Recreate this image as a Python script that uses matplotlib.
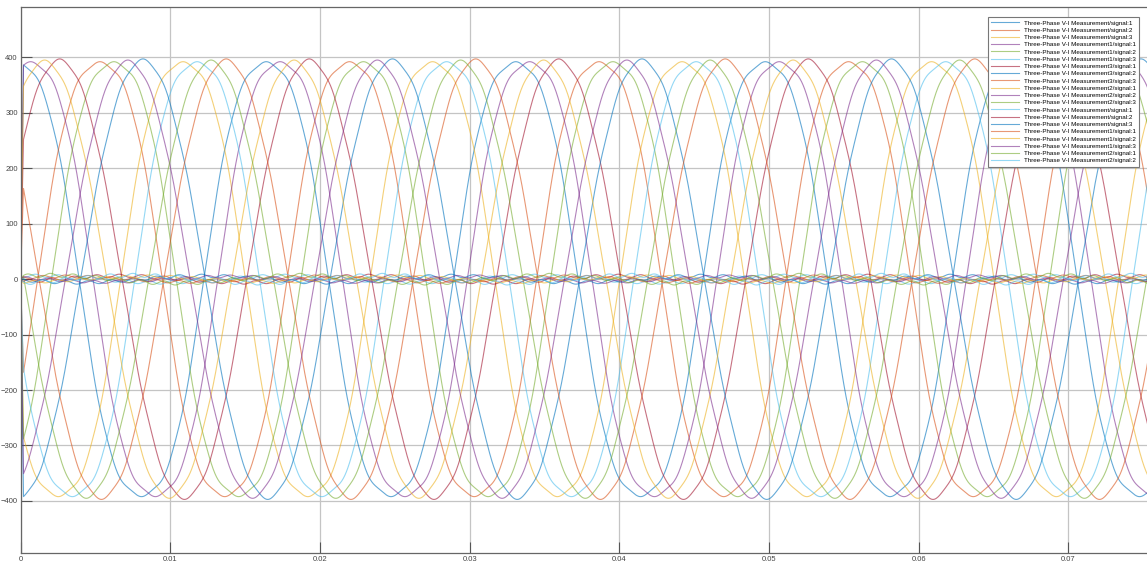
import numpy as np
import matplotlib
matplotlib.use('Agg')
import matplotlib.pyplot as plt

plt.rcParams['font.family'] = ['Liberation Sans', 'DejaVu Sans']

# legend labels, in scope order
labels = [
    'Three-Phase V-I Measurement/signal:1', 'Three-Phase V-I Measurement/signal:2',
    'Three-Phase V-I Measurement/signal:3', 'Three-Phase V-I Measurement1/signal:1',
    'Three-Phase V-I Measurement1/signal:2', 'Three-Phase V-I Measurement1/signal:3',
    'Three-Phase V-I Measurement3/signal:1', 'Three-Phase V-I Measurement3/signal:2',
    'Three-Phase V-I Measurement3/signal:3', 'Three-Phase V-I Measurement2/signal:1',
    'Three-Phase V-I Measurement2/signal:2', 'Three-Phase V-I Measurement2/signal:3',
    'Three-Phase V-I Measurement/signal:1', 'Three-Phase V-I Measurement/signal:2',
    'Three-Phase V-I Measurement/signal:3', 'Three-Phase V-I Measurement1/signal:1',
    'Three-Phase V-I Measurement1/signal:2', 'Three-Phase V-I Measurement1/signal:3',
    'Three-Phase V-I Measurement2/signal:1', 'Three-Phase V-I Measurement2/signal:2',
]

# values: frequency, peak value and time of first positive peak (s)
freq_hz = 60.0
amplitude = [390, 390, 390, 390, 390, 390, 395, 395, 395, 393, 393, 393,
             6, 6, 6, 5, 5, 5, 7, 7]
peak_time = [-0.00025, 0.00531, 0.01086, 0.00068, 0.00624, 0.01180,
             0.00262, 0.00818, 0.01374, 0.00161, 0.00717, 0.01273,
             0.0010, 0.0066, 0.0121, 0.0030, 0.0085, 0.0140, 0.0020, 0.0075]
# flat-top (3rd harmonic) share and ripple share seen on each trace
flat_top = [0.06] * 6 + [0.02] * 6 + [0.0] * 8
ripple = [0.006] * 12 + [0.5] * 8

colors = ['#0072BD', '#D95319', '#EDB120', '#7E2F8E', '#77AC30', '#4DBEEE', '#A2142F']

t_end = 0.0754
t = np.linspace(0.0002, t_end, 3000)
w = 2 * np.pi * freq_hz

fig = plt.figure(figsize=(11.47, 5.63), dpi=100)
ax = fig.add_axes([20.5 / 1147, 10 / 563, 1 - 20.5 / 1147 + 0.002, 546 / 563])

for i, lab in enumerate(labels):
    th = w * (t - peak_time[i])
    k = flat_top[i]
    y = amplitude[i] / (1 - k) * (np.cos(th) - k * np.cos(3 * th)) \
        + amplitude[i] * ripple[i] * np.cos(11 * th)
    ax.plot(np.r_[0, t], np.r_[0, y], color=colors[i % 7], lw=0.8, alpha=0.6, label=lab)

ax.set_xlim(0, t_end)
ax.set_ylim(-494, 491)
ax.set_xticks([0, 0.01, 0.02, 0.03, 0.04, 0.05, 0.06, 0.07])
ax.set_xticklabels(['0', '0.01', '0.02', '0.03', '0.04', '0.05', '0.06', '0.07'])
ax.set_yticks([-400, -300, -200, -100, 0, 100, 200, 300, 400])
ax.tick_params(direction='in', length=8, width=0.8, color='#555555', labelsize=5.5,
               labelcolor='#444444', pad=2)
ax.grid(True, color='#c4c4c4', lw=0.9)
for s in ax.spines.values():
    s.set_color('#666666')
    s.set_linewidth(0.9)

leg = ax.legend(loc='upper right', bbox_to_anchor=(1142 / 1147, 549 / 563),
                bbox_transform=fig.transFigure, fontsize=4.5, handlelength=4.5,
                labelspacing=0.3, borderpad=0.5, fancybox=False, framealpha=1,
                edgecolor='#777777')
leg.get_frame().set_linewidth(0.8)

fig.savefig('out.png', dpi=100)
